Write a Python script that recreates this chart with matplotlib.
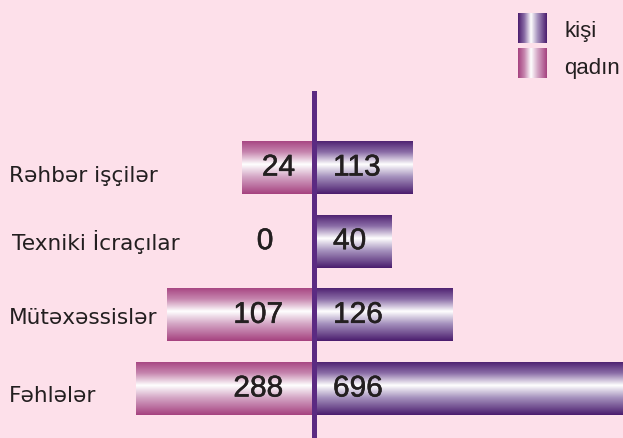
import numpy as np
import matplotlib
matplotlib.use("Agg")
import matplotlib.pyplot as plt
import matplotlib.patheffects as pe
from matplotlib.colors import LinearSegmentedColormap

BG = "#fde0ea"
INK = "#231f20"
AXIS = "#5b2a82"

categories = ["Rəhbər işçilər", "Texniki İcraçılar", "Mütəxəssislər", "Fəhlələr"]
kisi_values = [113, 40, 126, 696]
qadin_values = [24, 0, 107, 288]
# drawn bar lengths (the original is not to scale)
kisi_len = [99, 78, 139, 330]
qadin_len = [72, 0, 147, 178]
legend_labels = ["kişi", "qadın"]

pink = LinearSegmentedColormap.from_list("pink", [
    (0.0, "#a5417f"), (0.22, "#c685ae"), (0.45, "#ffffff"),
    (0.68, "#d4a6c5"), (1.0, "#a5417f")])
purple = LinearSegmentedColormap.from_list("purple", [
    (0.0, "#4a1c6d"), (0.22, "#8a6ca6"), (0.45, "#ffffff"),
    (0.68, "#a591bd"), (1.0, "#4a1c6d")])

fig = plt.figure(figsize=(6.23, 4.38), dpi=100, facecolor=BG)
ax = fig.add_axes([0, 0, 1, 1], facecolor=BG)
XL, YL = (-314, 309), (3.672, -2.274)
PX = 73.67  # pixels per row
ax.set_xlim(*XL)
ax.set_ylim(*YL)
ax.axis("off")

y = np.arange(len(categories))
h = 0.72
grad = np.linspace(0, 1, 256).reshape(-1, 1)


def gradient_bars(bars, cmap):
    for b in bars:
        if b.get_width() == 0:
            continue
        x0, y0 = b.get_x(), b.get_y()
        x1 = x0 + b.get_width()
        im = ax.imshow(grad, cmap=cmap, aspect="auto", zorder=2,
                       extent=[min(x0, x1), max(x0, x1), y0 + b.get_height(), y0],
                       interpolation="bilinear")
        im.set_clip_path(b)
    ax.set_xlim(*XL)
    ax.set_ylim(*YL)


kb = ax.barh(y, kisi_len, height=h, color="none", edgecolor="none")
qb = ax.barh(y, [-v for v in qadin_len], height=h, color="none", edgecolor="none")
gradient_bars(kb, purple)
gradient_bars(qb, pink)

ax.axvline(0, ymin=0, ymax=1 - 93 / 438, color=AXIS, lw=3.6, zorder=3)

bold = [pe.withStroke(linewidth=0.4, foreground=INK)]
left_off = [-19, -49, -31, -31]
label_base = [14.5, 8.5, 9.5, 13.5]  # px below bar centre
label_x = [-305, -302, -305, -305]
for i in range(len(categories)):
    ax.text(19, y[i], str(kisi_values[i]), ha="left", va="center",
            fontsize=21.5, family="Liberation Sans", color=INK, zorder=4,
            path_effects=bold)
    ax.text(left_off[i], y[i], str(qadin_values[i]),
            ha="right" if qadin_values[i] else "center", va="center",
            fontsize=21.5, family="Liberation Sans", color=INK, zorder=4,
            path_effects=bold)
    ax.text(label_x[i], y[i] + label_base[i] / PX, categories[i], ha="left",
            va="baseline", fontsize=15.6, family="DejaVu Sans", color=INK)

# legend
for k, (lab, cmap) in enumerate(zip(legend_labels, [purple, pink])):
    top = 13 + k * 35
    lax = fig.add_axes([518 / 623, 1 - (top + 30) / 438, 29 / 623, 30 / 438])
    lax.imshow(grad.T, cmap=cmap, aspect="auto", interpolation="bilinear")
    lax.axis("off")
    fig.text(564 / 623, 1 - (37 + 37 * k) / 438, lab, ha="left", va="baseline",
             fontsize=16, family="Liberation Sans", color=INK)

fig.savefig("out.png", dpi=100, facecolor=BG)
